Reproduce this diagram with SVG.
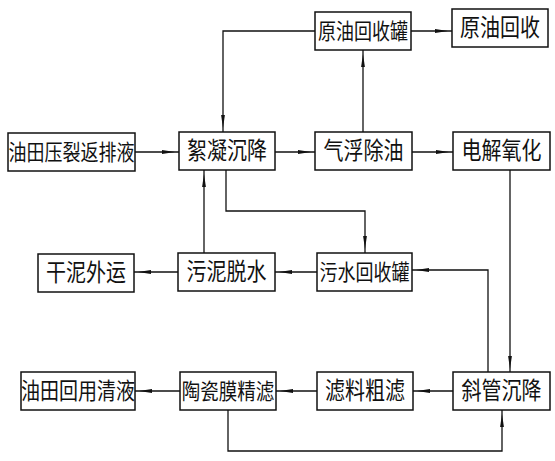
<svg xmlns="http://www.w3.org/2000/svg" width="555" height="461" viewBox="0 0 555 461">
<style>
.box{fill:#fff;stroke:#111;stroke-width:1.5}
.t{font-family:"Noto Sans CJK SC","Noto Sans",sans-serif;fill:#111;text-anchor:middle}
.c{fill:none;stroke:#111;stroke-width:1.3}
</style>
<defs>
<marker id="ah" markerUnits="userSpaceOnUse" markerWidth="20" markerHeight="6" refX="17" refY="2.5" orient="auto">
<path d="M0,0.6 L13,2.5 L0,4.4 z" fill="#111"/>
</marker>
</defs>
<rect width="555" height="461" fill="#fff"/>
<g id="connectors">
<path class="c" d="M315,31 H223 V132" marker-end="url(#ah)"/>
<path class="c" d="M363,132 V50" marker-end="url(#ah)"/>
<path class="c" d="M411,31 H452" marker-end="url(#ah)"/>
<path class="c" d="M135,152 H179" marker-end="url(#ah)"/>
<path class="c" d="M275,152 H315" marker-end="url(#ah)"/>
<path class="c" d="M412,152 H453" marker-end="url(#ah)"/>
<path class="c" d="M226,170 V211 H365 V253" marker-end="url(#ah)"/>
<path class="c" d="M204,253 V170" marker-end="url(#ah)"/>
<path class="c" d="M510,170 V373" marker-end="url(#ah)"/>
<path class="c" d="M488,372 V270 H412" marker-end="url(#ah)"/>
<path class="c" d="M317,272 H275" marker-end="url(#ah)"/>
<path class="c" d="M178,272 H134" marker-end="url(#ah)"/>
<path class="c" d="M453,391 H413" marker-end="url(#ah)"/>
<path class="c" d="M317,391 H276" marker-end="url(#ah)"/>
<path class="c" d="M180,391 H135" marker-end="url(#ah)"/>
<path class="c" d="M228,410 V451 H502 V410" marker-end="url(#ah)"/>
</g>
<g id="n-yuanyouguan"><rect class="box" x="315" y="12" width="96" height="38"/><text class="t" font-size="18" transform="translate(363,31) scale(1,1.18)" y="6.5">原油回收罐</text></g>
<g id="n-yuanyou"><rect class="box" x="452" y="9" width="96" height="38"/><text class="t" font-size="20" transform="translate(500,28) scale(1,1.18)" y="7">原油回收</text></g>
<g id="n-fanpaiye"><rect class="box" x="8" y="133" width="127" height="38"/><text class="t" font-size="18" transform="translate(71.5,152) scale(1,1.18)" y="6.5">油田压裂返排液</text></g>
<g id="n-xuning"><rect class="box" x="179" y="132" width="96" height="38"/><text class="t" font-size="20" transform="translate(227,151) scale(1,1.18)" y="7">絮凝沉降</text></g>
<g id="n-qifu"><rect class="box" x="315" y="132" width="97" height="38"/><text class="t" font-size="20" transform="translate(363.5,151) scale(1,1.18)" y="7">气浮除油</text></g>
<g id="n-dianjie"><rect class="box" x="453" y="132" width="97" height="38"/><text class="t" font-size="20" transform="translate(501.5,151) scale(1,1.18)" y="7">电解氧化</text></g>
<g id="n-ganni"><rect class="box" x="38" y="254" width="96" height="38"/><text class="t" font-size="20" transform="translate(86,273) scale(1,1.18)" y="7">干泥外运</text></g>
<g id="n-wuni"><rect class="box" x="178" y="253" width="97" height="38"/><text class="t" font-size="20" transform="translate(226.5,272) scale(1,1.18)" y="7">污泥脱水</text></g>
<g id="n-wushui"><rect class="box" x="317" y="253" width="95" height="38"/><text class="t" font-size="18" transform="translate(364.5,272) scale(1,1.18)" y="6.5">污水回收罐</text></g>
<g id="n-qingye"><rect class="box" x="21" y="372" width="114" height="38"/><text class="t" font-size="19" transform="translate(78,391) scale(1,1.18)" y="6.8">油田回用清液</text></g>
<g id="n-taoci"><rect class="box" x="180" y="372" width="96" height="38"/><text class="t" font-size="18.5" transform="translate(228,391) scale(1,1.18)" y="6.6">陶瓷膜精滤</text></g>
<g id="n-lvliao"><rect class="box" x="317" y="372" width="96" height="38"/><text class="t" font-size="20" transform="translate(365,391) scale(1,1.18)" y="7">滤料粗滤</text></g>
<g id="n-xieguan"><rect class="box" x="453" y="372" width="97" height="38"/><text class="t" font-size="20" transform="translate(501.5,391) scale(1,1.18)" y="7">斜管沉降</text></g>
</svg>
